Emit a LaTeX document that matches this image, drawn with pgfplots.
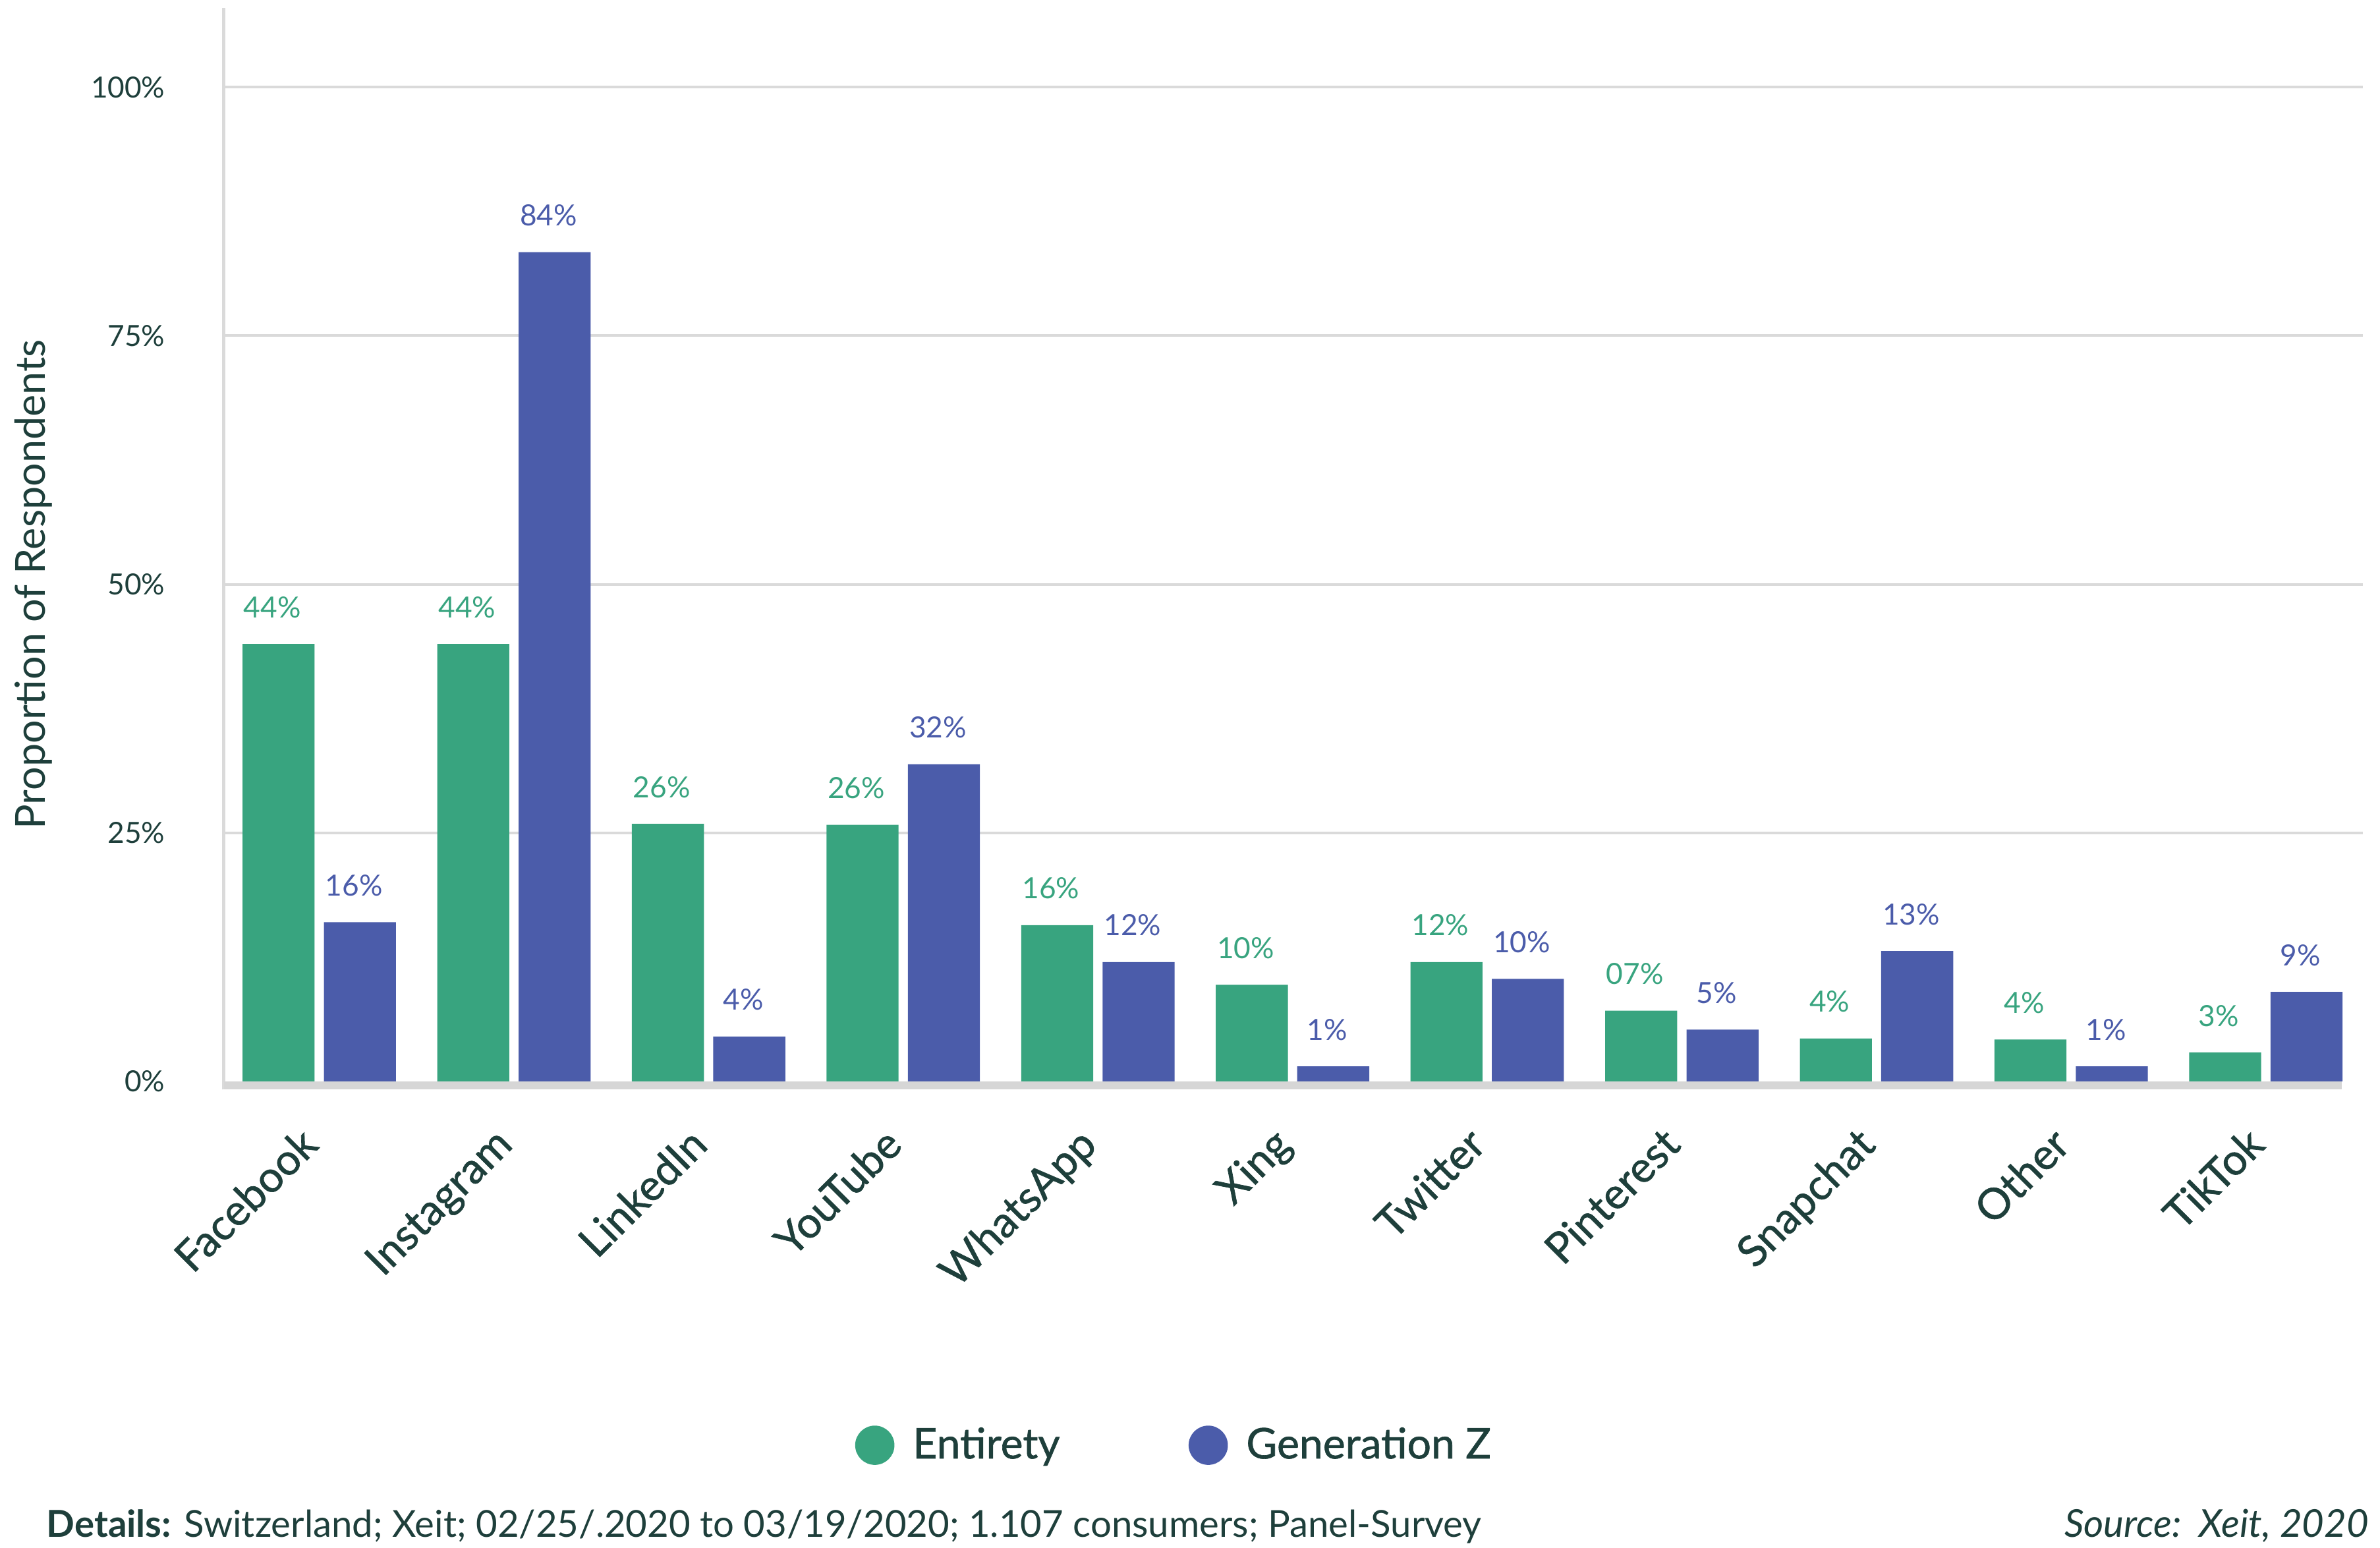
\documentclass[border=0pt]{standalone}
\usepackage{pgfplots}
\pgfplotsset{compat=1.18}
\usepackage{fontspec}
\setmainfont{Lato}
\newfontfamily\medfont{Lato}[FakeBold=1.0]
\definecolor{cgreen}{HTML}{38A47F}
\definecolor{cblue}{HTML}{4B5CAA}
\definecolor{ctext}{HTML}{1E3F3B}
\definecolor{cgrid}{HTML}{DADADA}
\definecolor{cbase}{HTML}{D6D6D6}
\begin{document}
\begin{tikzpicture}
\path[use as bounding box] (-73pt,-152pt) rectangle (703pt,352.5pt);
\begin{axis}[
  at={(0,0)}, anchor=south west,
  scale only axis, width=697.5pt, height=350pt,
  xmin=-0.49, xmax=10.5, ymin=0, ymax=108,
  clip=false,
  axis line style={draw=none},
  major tick length=0pt,
  tick style={draw=none},
  ytick={25,50,75,100},
  yticklabels={25\%,50\%,75\%,100\%},
  extra y ticks={0},
  extra y tick labels={0\%},
  extra y tick style={grid=none},
  ymajorgrids,
  grid style={cgrid, line width=0.85pt},
  yticklabel style={font=\fontsize{9.5}{11}\selectfont, text=ctext, anchor=east, inner sep=0pt, xshift=-19pt},
  xtick={0,1,2,3,4,5,6,7,8,9,10},
  xticklabels={Facebook,Instagram,LinkedIn,YouTube,WhatsApp,Xing,Twitter,Pinterest,Snapchat,Other,TikTok},
  xticklabel style={font=\medfont\fontsize{14}{16}\selectfont, text=ctext, rotate=45, anchor=north east, inner sep=0pt, yshift=-4.9pt, xshift=-14.8pt},
  legend style={at={(0.4466,-0.339)}, anchor=center, draw=none, fill=none, legend columns=2,
    font=\medfont\fontsize{13.8}{16}\selectfont, text=ctext,
    nodes={inner sep=4pt},
    /tikz/every odd column/.append style={column sep=2pt},
    /tikz/every even column/.append style={column sep=38pt}},
  legend cell align=left,
]
\draw[cgrid, line width=1pt] ([yshift=-2.7pt]rel axis cs:0,0) -- (rel axis cs:0,1);
\addplot[ybar, bar width=0.37, bar shift=-0.209, fill=cgreen, draw=none,
  nodes near coords, point meta=explicit symbolic,
  every node near coord/.append style={font=\fontsize{9.5}{11}\selectfont, text=cgreen, anchor=center, yshift=12pt, xshift=-15.3pt},
  legend image code/.code={\fill[cgreen] (0pt,0pt) circle (6.4pt);}]
  coordinates {(0,44.0)[44\%] (1,44.0)[44\%] (2,25.9)[26\%] (3,25.8)[26\%] (4,15.7)[16\%] (5,9.7)[10\%] (6,12.0)[12\%] (7,7.1)[07\%] (8,4.3)[4\%] (9,4.2)[4\%] (10,2.9)[3\%]};
\addlegendentry{Entirety}
\addplot[ybar, bar width=0.37, bar shift=0.209, fill=cblue, draw=none,
  nodes near coords, point meta=explicit symbolic,
  every node near coord/.append style={font=\fontsize{9.5}{11}\selectfont, text=cblue, anchor=center, yshift=12pt, xshift=11.3pt},
  legend image code/.code={\fill[cblue] (0pt,0pt) circle (6.4pt);}]
  coordinates {(0,16.0)[16\%] (1,83.4)[84\%] (2,4.5)[4\%] (3,31.9)[32\%] (4,12.0)[12\%] (5,1.5)[1\%] (6,10.3)[10\%] (7,5.2)[5\%] (8,13.1)[13\%] (9,1.5)[1\%] (10,9.0)[9\%]};
\addlegendentry{Generation Z}
\draw[cbase, line width=2.7pt] ([yshift=-1.35pt]axis cs:-0.49,0) -- ([yshift=-1.35pt]axis cs:10.39,0);
\end{axis}
\node[rotate=90, text=ctext, font=\fontsize{13.5}{15}\selectfont] at (-62pt,162pt) {Proportion of Respondents};
\node[anchor=base west, inner sep=0pt, text=ctext, font=\fontsize{12.1}{14}\selectfont] at (-58pt,-148.5pt) {\textbf{Details:} Switzerland; Xeit; 02/25/.2020 to 03/19/2020; 1.107 consumers; Panel-Survey};
\node[anchor=base east, inner sep=0pt, text=ctext, font=\fontsize{12.5}{14}\selectfont\itshape] at (699.5pt,-148.5pt) {Source:\ \ Xeit, 2020};
\end{tikzpicture}
\end{document}
